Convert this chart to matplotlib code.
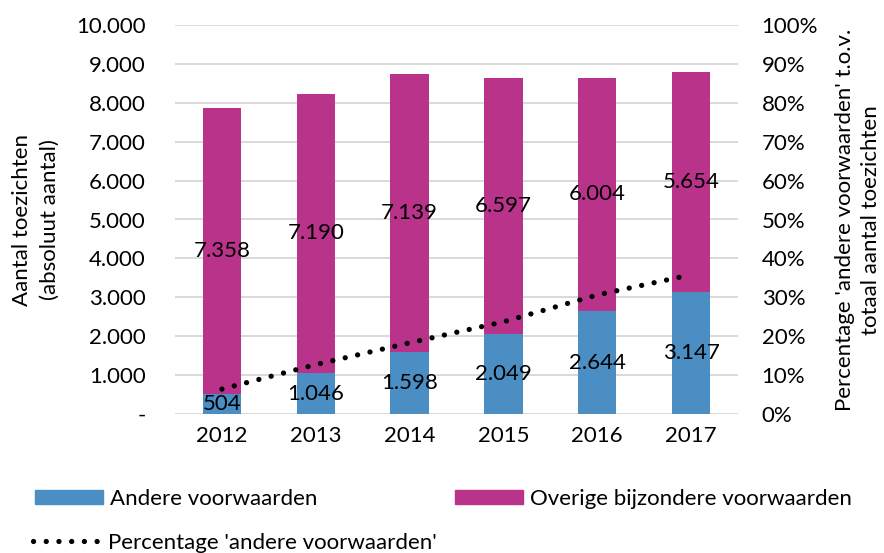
import matplotlib
matplotlib.use('Agg')
import matplotlib.pyplot as plt
from matplotlib.patches import Patch
from matplotlib.lines import Line2D
from matplotlib.ticker import FixedLocator

plt.rcParams['font.family'] = ['Lato', 'DejaVu Sans']

years = ['2012', '2013', '2014', '2015', '2016', '2017']
andere = [504, 1046, 1598, 2049, 2644, 3147]
overige = [7358, 7190, 7139, 6597, 6004, 5654]
pct_andere = [6.4, 12.7, 18.3, 23.7, 30.6, 35.8]

left_ticks = [0, 1000, 2000, 3000, 4000, 5000, 6000, 7000, 8000, 9000, 10000]
left_labels = ['-', '1.000', '2.000', '3.000', '4.000', '5.000',
               '6.000', '7.000', '8.000', '9.000', '10.000']
right_ticks = [0, 10, 20, 30, 40, 50, 60, 70, 80, 90, 100]
right_labels = [f'{t}%' for t in right_ticks]

BLUE = '#4a8ec4'
MAGENTA = '#b9338a'
GRID = '#d9d9d9'
FS = 16


def fmt(v):
    return f'{v:,}'.replace(',', '.')


W, H = 884, 553
fig = plt.figure(figsize=(W / 100, H / 100), dpi=100)
ax = fig.add_axes([175 / W, 1 - 414 / H, (738 - 175) / W, (414 - 25) / H])

x = list(range(len(years)))
ax.bar(x, andere, width=0.41, color=BLUE, zorder=2)
ax.bar(x, overige, width=0.41, bottom=andere, color=MAGENTA, zorder=2)

# data labels centred in each segment
for i in x:
    ax.text(i, andere[i] / 2, fmt(andere[i]), ha='center', va='center',
            fontsize=FS, zorder=4)
    ax.text(i, andere[i] + overige[i] / 2, fmt(overige[i]), ha='center',
            va='center', fontsize=FS, zorder=4)

ax.set_xlim(-0.5, len(years) - 0.5)
ax.set_ylim(0, 10000)
ax.yaxis.set_major_locator(FixedLocator(left_ticks))
ax.set_yticklabels(left_labels)
ax.set_xticks(x)
ax.set_xticklabels(years)
ax.tick_params(axis='y', length=0, pad=21, labelsize=FS)
ax.tick_params(axis='x', length=0, pad=9, labelsize=FS)
ax.grid(axis='y', color=GRID, linewidth=1.4, zorder=0)
for s in ax.spines.values():
    s.set_visible(False)

ax2 = ax.twinx()
ax2.plot(x, pct_andere, color='black', linewidth=3.8,
         linestyle=(0, (0.01, 2.4)), dash_capstyle='round', zorder=5)
ax2.set_ylim(0, 100)
ax2.yaxis.set_major_locator(FixedLocator(right_ticks))
ax2.set_yticklabels(right_labels)
ax2.tick_params(axis='y', length=0, pad=17, labelsize=FS)
for s in ax2.spines.values():
    s.set_visible(False)

fig.text(36 / W, 1 - 220 / H, 'Aantal toezichten\n(absoluut aantal)',
         rotation=90, ha='center', va='center', fontsize=FS,
         multialignment='center', linespacing=1.5)
fig.text(858 / W, 1 - 220 / H,
         "Percentage 'andere voorwaarden' t.o.v.\ntotaal aantal toezichten",
         rotation=90, ha='center', va='center', fontsize=FS,
         multialignment='center', linespacing=1.4)

fs_px = FS * 100 / 72
common = dict(fontsize=FS, frameon=False, loc='center left', borderpad=0,
              borderaxespad=0, handlelength=68 / fs_px, handleheight=14 / fs_px,
              handletextpad=7 / fs_px)
fig.legend([Patch(color=BLUE)], ['Andere voorwaarden'],
           bbox_to_anchor=(35 / W, 1 - 499 / H), **common)
fig.legend([Patch(color=MAGENTA)], ['Overige bijzondere voorwaarden'],
           bbox_to_anchor=(455 / W, 1 - 499 / H), **common)
fig.legend([Line2D([], [], color='black', linewidth=3.8,
                   linestyle=(0, (0.01, 2.4)), dash_capstyle='round')],
           ["Percentage 'andere voorwaarden'"],
           bbox_to_anchor=(33 / W, 1 - 543 / H), **common)

fig.savefig('out.png', dpi=100)
